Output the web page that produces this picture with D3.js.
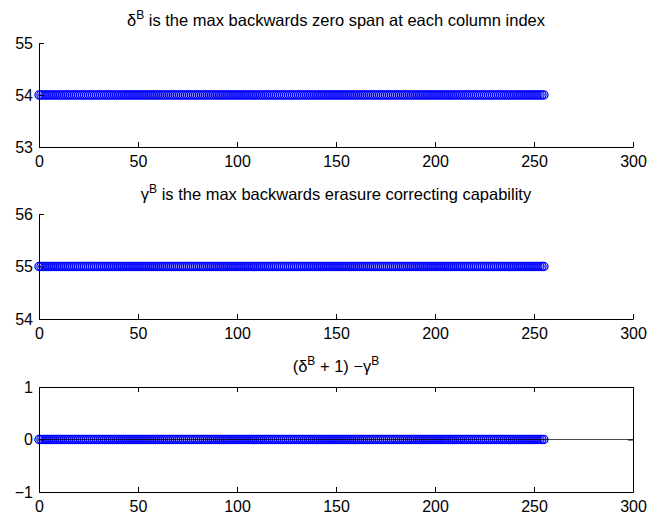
<!DOCTYPE html>
<meta charset="utf-8">

<head>
    <title>Backwards zero span and erasure capability</title>
</head>

<style>
    body {
        margin: 0;
        background: #fff;
    }

    text {
        font-family: "Liberation Sans", Arial, sans-serif;
        fill: #000;
    }
</style>

<script src="https://d3js.org/d3.v7.min.js"></script>

<body>
    <div id="chart"></div>
</body>

<script>

    // column index 0..255
    var columnIndex = [
        0, 1, 2, 3, 4, 5, 6, 7, 8, 9, 10, 11, 12, 13, 14, 15, 16, 17, 18, 19, 20, 21, 22, 23, 24, 25, 26, 27, 28, 29, 30, 31,
        32, 33, 34, 35, 36, 37, 38, 39, 40, 41, 42, 43, 44, 45, 46, 47, 48, 49, 50, 51, 52, 53, 54, 55, 56, 57, 58, 59, 60, 61, 62, 63,
        64, 65, 66, 67, 68, 69, 70, 71, 72, 73, 74, 75, 76, 77, 78, 79, 80, 81, 82, 83, 84, 85, 86, 87, 88, 89, 90, 91, 92, 93, 94, 95,
        96, 97, 98, 99, 100, 101, 102, 103, 104, 105, 106, 107, 108, 109, 110, 111, 112, 113, 114, 115, 116, 117, 118, 119, 120, 121, 122, 123, 124, 125, 126, 127,
        128, 129, 130, 131, 132, 133, 134, 135, 136, 137, 138, 139, 140, 141, 142, 143, 144, 145, 146, 147, 148, 149, 150, 151, 152, 153, 154, 155, 156, 157, 158, 159,
        160, 161, 162, 163, 164, 165, 166, 167, 168, 169, 170, 171, 172, 173, 174, 175, 176, 177, 178, 179, 180, 181, 182, 183, 184, 185, 186, 187, 188, 189, 190, 191,
        192, 193, 194, 195, 196, 197, 198, 199, 200, 201, 202, 203, 204, 205, 206, 207, 208, 209, 210, 211, 212, 213, 214, 215, 216, 217, 218, 219, 220, 221, 222, 223,
        224, 225, 226, 227, 228, 229, 230, 231, 232, 233, 234, 235, 236, 237, 238, 239, 240, 241, 242, 243, 244, 245, 246, 247, 248, 249, 250, 251, 252, 253, 254, 255
    ];

    // delta^B: max backwards zero span per column
    var deltaB = [
        54, 54, 54, 54, 54, 54, 54, 54, 54, 54, 54, 54, 54, 54, 54, 54, 54, 54, 54, 54, 54, 54, 54, 54, 54, 54, 54, 54, 54, 54, 54, 54,
        54, 54, 54, 54, 54, 54, 54, 54, 54, 54, 54, 54, 54, 54, 54, 54, 54, 54, 54, 54, 54, 54, 54, 54, 54, 54, 54, 54, 54, 54, 54, 54,
        54, 54, 54, 54, 54, 54, 54, 54, 54, 54, 54, 54, 54, 54, 54, 54, 54, 54, 54, 54, 54, 54, 54, 54, 54, 54, 54, 54, 54, 54, 54, 54,
        54, 54, 54, 54, 54, 54, 54, 54, 54, 54, 54, 54, 54, 54, 54, 54, 54, 54, 54, 54, 54, 54, 54, 54, 54, 54, 54, 54, 54, 54, 54, 54,
        54, 54, 54, 54, 54, 54, 54, 54, 54, 54, 54, 54, 54, 54, 54, 54, 54, 54, 54, 54, 54, 54, 54, 54, 54, 54, 54, 54, 54, 54, 54, 54,
        54, 54, 54, 54, 54, 54, 54, 54, 54, 54, 54, 54, 54, 54, 54, 54, 54, 54, 54, 54, 54, 54, 54, 54, 54, 54, 54, 54, 54, 54, 54, 54,
        54, 54, 54, 54, 54, 54, 54, 54, 54, 54, 54, 54, 54, 54, 54, 54, 54, 54, 54, 54, 54, 54, 54, 54, 54, 54, 54, 54, 54, 54, 54, 54,
        54, 54, 54, 54, 54, 54, 54, 54, 54, 54, 54, 54, 54, 54, 54, 54, 54, 54, 54, 54, 54, 54, 54, 54, 54, 54, 54, 54, 54, 54, 54, 54
    ];

    // gamma^B: max backwards erasure correcting capability per column
    var gammaB = [
        55, 55, 55, 55, 55, 55, 55, 55, 55, 55, 55, 55, 55, 55, 55, 55, 55, 55, 55, 55, 55, 55, 55, 55, 55, 55, 55, 55, 55, 55, 55, 55,
        55, 55, 55, 55, 55, 55, 55, 55, 55, 55, 55, 55, 55, 55, 55, 55, 55, 55, 55, 55, 55, 55, 55, 55, 55, 55, 55, 55, 55, 55, 55, 55,
        55, 55, 55, 55, 55, 55, 55, 55, 55, 55, 55, 55, 55, 55, 55, 55, 55, 55, 55, 55, 55, 55, 55, 55, 55, 55, 55, 55, 55, 55, 55, 55,
        55, 55, 55, 55, 55, 55, 55, 55, 55, 55, 55, 55, 55, 55, 55, 55, 55, 55, 55, 55, 55, 55, 55, 55, 55, 55, 55, 55, 55, 55, 55, 55,
        55, 55, 55, 55, 55, 55, 55, 55, 55, 55, 55, 55, 55, 55, 55, 55, 55, 55, 55, 55, 55, 55, 55, 55, 55, 55, 55, 55, 55, 55, 55, 55,
        55, 55, 55, 55, 55, 55, 55, 55, 55, 55, 55, 55, 55, 55, 55, 55, 55, 55, 55, 55, 55, 55, 55, 55, 55, 55, 55, 55, 55, 55, 55, 55,
        55, 55, 55, 55, 55, 55, 55, 55, 55, 55, 55, 55, 55, 55, 55, 55, 55, 55, 55, 55, 55, 55, 55, 55, 55, 55, 55, 55, 55, 55, 55, 55,
        55, 55, 55, 55, 55, 55, 55, 55, 55, 55, 55, 55, 55, 55, 55, 55, 55, 55, 55, 55, 55, 55, 55, 55, 55, 55, 55, 55, 55, 55, 55, 55
    ];

    // (delta^B + 1) - gamma^B
    var diffB = [
        0, 0, 0, 0, 0, 0, 0, 0, 0, 0, 0, 0, 0, 0, 0, 0, 0, 0, 0, 0, 0, 0, 0, 0, 0, 0, 0, 0, 0, 0, 0, 0,
        0, 0, 0, 0, 0, 0, 0, 0, 0, 0, 0, 0, 0, 0, 0, 0, 0, 0, 0, 0, 0, 0, 0, 0, 0, 0, 0, 0, 0, 0, 0, 0,
        0, 0, 0, 0, 0, 0, 0, 0, 0, 0, 0, 0, 0, 0, 0, 0, 0, 0, 0, 0, 0, 0, 0, 0, 0, 0, 0, 0, 0, 0, 0, 0,
        0, 0, 0, 0, 0, 0, 0, 0, 0, 0, 0, 0, 0, 0, 0, 0, 0, 0, 0, 0, 0, 0, 0, 0, 0, 0, 0, 0, 0, 0, 0, 0,
        0, 0, 0, 0, 0, 0, 0, 0, 0, 0, 0, 0, 0, 0, 0, 0, 0, 0, 0, 0, 0, 0, 0, 0, 0, 0, 0, 0, 0, 0, 0, 0,
        0, 0, 0, 0, 0, 0, 0, 0, 0, 0, 0, 0, 0, 0, 0, 0, 0, 0, 0, 0, 0, 0, 0, 0, 0, 0, 0, 0, 0, 0, 0, 0,
        0, 0, 0, 0, 0, 0, 0, 0, 0, 0, 0, 0, 0, 0, 0, 0, 0, 0, 0, 0, 0, 0, 0, 0, 0, 0, 0, 0, 0, 0, 0, 0,
        0, 0, 0, 0, 0, 0, 0, 0, 0, 0, 0, 0, 0, 0, 0, 0, 0, 0, 0, 0, 0, 0, 0, 0, 0, 0, 0, 0, 0, 0, 0, 0
    ];

    // axis ticks
    var xTicks = [0, 50, 100, 150, 200, 250, 300];
    var xDomain = [0, 300];

    var panels = [
        { values: deltaB, domain: [53, 55], yTicks: [53, 54, 55], top: 43, bottom: 147, titleY: 26, box: false,
          title: [["δ", 0], ["B", 1], [" is the max backwards zero span at each column index", 0]] },
        { values: gammaB, domain: [54, 56], yTicks: [54, 55, 56], top: 214, bottom: 319, titleY: 200, box: false,
          title: [["γ", 0], ["B", 1], [" is the max backwards erasure correcting capability", 0]] },
        { values: diffB, domain: [-1, 1], yTicks: [-1, 0, 1], top: 387, bottom: 492, titleY: 372, box: true,
          title: [["(δ", 0], ["B", 1], [" + 1) −γ", 0], ["B", 1]] }
    ];

    var width = 652, height = 521;
    var left = 39, right = 633;

    var svg = d3.select("#chart")
        .append("svg")
        .attr("width", width)
        .attr("height", height);

    var x = d3.scaleLinear()
        .domain(xDomain)
        .range([left, right]);

    panels.forEach(function (p) {

        var y = d3.scaleLinear()
            .domain(p.domain)
            .range([p.bottom, p.top]);

        var g = svg.append("g");

        // markers: open blue circles
        g.append("g")
            .selectAll("circle")
            .data(columnIndex)
            .join("circle")
            .attr("cx", function (d) { return x(d); })
            .attr("cy", function (d, i) { return y(p.values[i]); })
            .attr("r", 4.1)
            .attr("fill", "none")
            .attr("stroke", "#0000ff")
            .attr("stroke-width", 1.3);

        // zero reference line across the whole third panel
        if (p.box) {
            g.append("line")
                .attr("x1", x(xDomain[0]))
                .attr("x2", x(xDomain[1]))
                .attr("y1", y(0))
                .attr("y2", y(0))
                .attr("stroke", "#000")
                .attr("stroke-width", 0.7);
        }

        // bottom axis, ticks pointing inward
        g.append("g")
            .attr("transform", "translate(0," + p.bottom + ")")
            .call(d3.axisBottom(x).tickValues(xTicks).tickSizeInner(-5).tickSizeOuter(0).tickPadding(9));

        // left axis, ticks pointing inward
        g.append("g")
            .attr("transform", "translate(" + left + ",0)")
            .call(d3.axisLeft(y).tickValues(p.yTicks).tickSizeInner(-5).tickSizeOuter(0).tickPadding(6)
                .tickFormat(function (d) { return d < 0 ? "\u2212" + Math.abs(d) : d; }));

        if (p.box) {
            g.append("g")
                .attr("transform", "translate(0," + p.top + ")")
                .call(d3.axisTop(x).tickValues(xTicks).tickSizeInner(-5).tickSizeOuter(0).tickFormat(""));
            g.append("g")
                .attr("transform", "translate(" + right + ",0)")
                .call(d3.axisRight(y).tickValues(p.yTicks).tickSizeInner(-5).tickSizeOuter(0).tickFormat(""));
        }

        g.selectAll(".domain").attr("stroke", "#000").attr("stroke-width", 1);
        g.selectAll(".tick line").attr("stroke", "#000").attr("stroke-width", 1);
        g.selectAll(".tick text")
            .attr("font-family", "'Liberation Sans', Arial, sans-serif")
            .attr("font-size", "16px")
            .attr("fill", "#000");

        // title with superscripts
        var t = g.append("text")
            .attr("x", (left + right) / 2)
            .attr("y", p.titleY)
            .attr("text-anchor", "middle")
            .attr("font-size", "16.5px");

        p.title.forEach(function (part, i) {
            var prev = i > 0 ? p.title[i - 1][1] : 0;
            var dy = part[1] === prev ? 0 : (part[1] ? -7 : 7);
            t.append("tspan")
                .attr("dy", dy)
                .attr("font-size", part[1] ? "12px" : "16.5px")
                .text(part[0]);
        });
    });

</script>
